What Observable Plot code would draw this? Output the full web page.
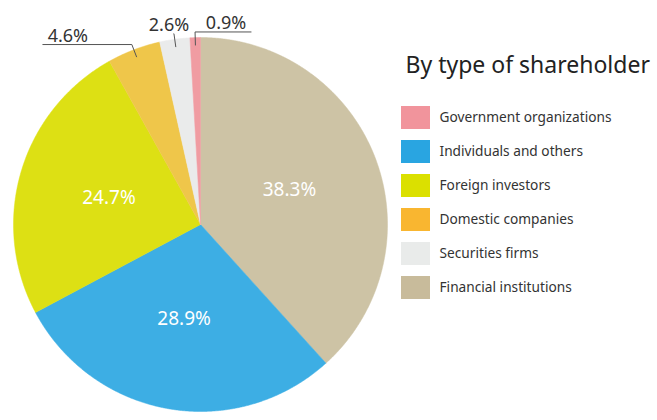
<!DOCTYPE html>
<html>
<head>
<meta charset="utf-8">
<script src="https://cdn.jsdelivr.net/npm/d3@7"></script>
<script src="https://cdn.jsdelivr.net/npm/@observablehq/plot@0.6"></script>
<style>
  html, body { margin: 0; padding: 0; background: #fff; }
  #chart svg { display: block; }
</style>
</head>
<body>
<div id="chart"></div>
<script>
// ---- data ----
const names = ["Financial institutions", "Individuals and others", "Foreign investors", "Domestic companies", "Securities firms", "Government organizations"];
const shares = [38.3, 28.9, 24.7, 4.6, 2.6, 0.9];
const pieColors = ["#cdc3a5", "#3daee4", "#dde014", "#efc64a", "#eaebeb", "#f09ca2"];
const legendNames = ["Government organizations", "Individuals and others", "Foreign investors", "Domestic companies", "Securities firms", "Financial institutions"];
const legendColors = ["#f1949c", "#29a5e1", "#dbe000", "#f9b630", "#e9ebea", "#c8bb9b"];
const title = "By type of shareholder";

// ---- layout (style) ----
const W = 657, H = 420;
const cx = 200, cy = 224, R = 187;
const font = "Noto Sans, sans-serif";
// leader horizontal run for small slices (style), px; sign = direction
const leaderRun = {"Domestic companies": -89, "Securities firms": 0, "Government organizations": 56};

// ---- derived geometry ----
const total = d3.sum(shares);
let acc = 0;
const slices = names.map((n, i) => {
  const a0 = acc / total * 360;
  acc += shares[i];
  const a1 = acc / total * 360;
  return {name: n, value: shares[i], color: pieColors[i], a0, a1, mid: (a0 + a1) / 2};
});
const pt = (deg, r) => {
  const t = deg * Math.PI / 180;
  return [cx + r * Math.sin(t), cy - r * Math.cos(t)];
};
const piePoints = [];
for (const s of slices) {
  piePoints.push({name: s.name, color: s.color, x: cx, y: cy});
  const steps = Math.max(2, Math.ceil((s.a1 - s.a0) / 0.25));
  for (let k = 0; k <= steps; k++) {
    const [x, y] = pt(s.a0 + (s.a1 - s.a0) * k / steps, R);
    piePoints.push({name: s.name, color: s.color, x, y});
  }
  piePoints.push({name: s.name, color: s.color, x: cx, y: cy});
}
const inner = slices.filter(s => s.value >= 10).map(s => {
  const [x, y] = pt(s.mid, R * 0.51);
  return {x, y, label: s.value.toFixed(1) + "%"};
});
const leaders = [];
const outer = [];
slices.filter(s => s.value < 10).forEach(s => {
  const p0 = pt(s.mid, R * 0.96);
  const p1 = pt(s.mid, R * 1.03);
  const run = leaderRun[s.name];
  const p2 = [p1[0] + run, p1[1]];
  leaders.push({name: s.name, x: p0[0], y: p0[1]}, {name: s.name, x: p1[0], y: p1[1]}, {name: s.name, x: p2[0], y: p2[1]});
  const tx = run === 0 ? p1[0] - 5 : p2[0] - Math.sign(run) * 25;
  outer.push({x: tx, y: p1[1] - 3, label: s.value.toFixed(1) + "%"});
});
const legend = legendNames.map((n, i) => ({name: n, color: legendColors[i], i}));
const legTop = 106, legStep = 34, legH = 23;

const chart = Plot.plot({
  width: W, height: H,
  margin: 0,
  x: {domain: [0, W], range: [0, W], axis: null},
  y: {domain: [0, H], range: [0, H], axis: null},
  color: {type: "identity"},
  style: {fontFamily: font, background: "#fff"},
  marks: [
    Plot.line(piePoints, {x: "x", y: "y", z: "name", fill: "color", stroke: "color", strokeWidth: 0.5, curve: "linear"}),
    Plot.text(inner, {x: "x", y: "y", text: "label", fill: "white", fontSize: 19, textAnchor: "middle"}),
    Plot.line(leaders, {x: "x", y: "y", z: "name", stroke: "#555", strokeWidth: 1}),
    Plot.text(outer, {x: "x", y: "y", text: "label", fill: "#333", fontSize: 18, lineAnchor: "bottom", textAnchor: "middle"}),
    Plot.text([title], {x: () => 405, y: () => 72, text: d => d, fill: "#222", fontSize: 23, textAnchor: "start", lineAnchor: "bottom"}),
    Plot.rect(legend, {x1: () => 401, x2: () => 430, y1: d => legTop + d.i * legStep, y2: d => legTop + d.i * legStep + legH, fill: "color"}),
    Plot.text(legend, {x: () => 439, y: d => legTop + d.i * legStep + legH / 2, text: "name", fill: "#333", fontSize: 13.7, textAnchor: "start"})
  ]
});
document.getElementById("chart").append(chart);
</script>
</body>
</html>
